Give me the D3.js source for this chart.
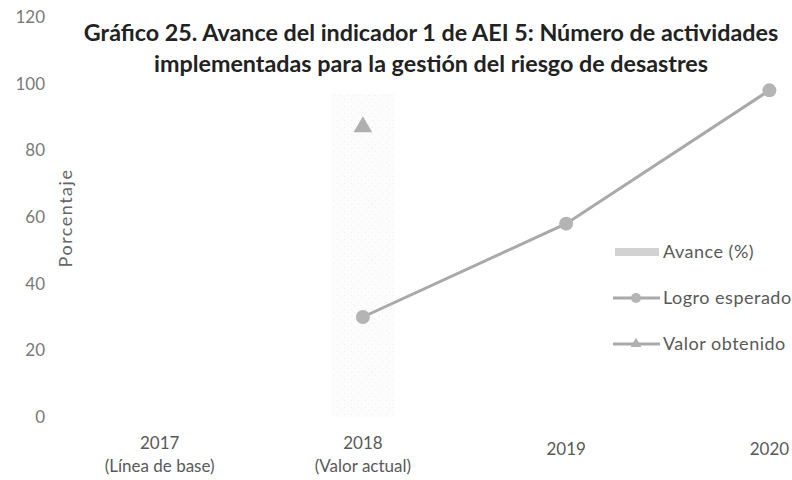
<!DOCTYPE html>
<html>
<head>
<meta charset="utf-8">
<script src="https://cdn.jsdelivr.net/npm/d3@7"></script>
<style>
  body { margin: 0; background: #fff; }
  text { font-family: Lato, "Open Sans", sans-serif; }
</style>
</head>
<body>
<svg id="chart" width="792" height="480"></svg>
<script>
// chart data
var categories = ["2017", "2018", "2019", "2020"];
var categorySub = ["(Línea de base)", "(Valor actual)", "", ""];
var avance = [null, 97, null, null];
var logroEsperado = [null, 30, 58, 98];
var valorObtenido = [null, 87, null, null];
var yTicks = [0, 20, 40, 60, 80, 100, 120];
var titleLines = [
    "Gráfico 25. Avance del indicador 1 de AEI 5: Número de actividades",
    "implementadas para la gestión del riesgo de desastres"
];
var legendItems = ["Avance (%)", "Logro esperado", "Valor obtenido"];

var svg = d3.select("#chart");

var x = d3.scaleBand()
    .domain(categories)
    .range([58, 871]);

var y = d3.scaleLinear()
    .domain([0, 120])
    .range([417, 17]);

function cx(c) { return x(c) + x.bandwidth() / 2; }

// very light speckled fill for the bar, like the scanned original
var defs = svg.append("defs");
var pat = defs.append("pattern")
    .attr("id", "speck")
    .attr("width", 7).attr("height", 7)
    .attr("patternUnits", "userSpaceOnUse");
pat.append("rect").attr("width", 7).attr("height", 7).attr("fill", "#fcfcfc");
pat.append("rect").attr("x", 1).attr("y", 1).attr("width", 1).attr("height", 1).attr("fill", "#ececec");
pat.append("rect").attr("x", 4).attr("y", 4).attr("width", 1).attr("height", 1).attr("fill", "#efefef");

// y axis labels
svg.append("g")
    .attr("class", "y-ticks")
    .selectAll("text")
    .data(yTicks)
    .enter().append("text")
    .attr("x", 45)
    .attr("y", function(d) { return y(d); })
    .attr("dy", "0.35em")
    .attr("text-anchor", "end")
    .attr("font-size", 17)
    .attr("fill", "#7a7a7a")
    .text(function(d) { return d; });

svg.append("text")
    .attr("transform", "translate(72,218) rotate(-90)")
    .attr("text-anchor", "middle")
    .attr("font-size", 18)
    .attr("letter-spacing", 1.5)
    .attr("fill", "#666")
    .text("Porcentaje");

// bars (Avance)
var barW = x.bandwidth() * 0.31;
svg.append("g")
    .selectAll("rect")
    .data(categories.filter(function(c, i) { return avance[i] !== null; }))
    .enter().append("rect")
    .attr("x", function(c) { return cx(c) - barW / 2; })
    .attr("y", function(c) { return y(avance[categories.indexOf(c)]); })
    .attr("width", barW)
    .attr("height", function(c) { return y(0) - y(avance[categories.indexOf(c)]); })
    .attr("fill", "url(#speck)");

// Logro esperado line
var logroPts = categories
    .map(function(c, i) { return { c: c, v: logroEsperado[i] }; })
    .filter(function(d) { return d.v !== null; });

var line = d3.line()
    .x(function(d) { return cx(d.c); })
    .y(function(d) { return y(d.v); });

svg.append("path")
    .datum(logroPts)
    .attr("d", line)
    .attr("fill", "none")
    .attr("stroke", "#a9a9a9")
    .attr("stroke-width", 3);

svg.append("g")
    .selectAll("circle")
    .data(logroPts)
    .enter().append("circle")
    .attr("cx", function(d) { return cx(d.c); })
    .attr("cy", function(d) { return y(d.v); })
    .attr("r", 7)
    .attr("fill", "#b4b4b4");

// Valor obtenido markers
var tri = d3.symbol().type(d3.symbolTriangle).size(150);
svg.append("g")
    .selectAll("path")
    .data(categories.filter(function(c, i) { return valorObtenido[i] !== null; }))
    .enter().append("path")
    .attr("d", tri)
    .attr("transform", function(c) {
        return "translate(" + cx(c) + "," + y(valorObtenido[categories.indexOf(c)]) + ")";
    })
    .attr("fill", "#b0b0b0");

// x axis labels
var xl = svg.append("g").selectAll("g")
    .data(categories)
    .enter().append("g")
    .attr("transform", function(c, i) {
        return "translate(" + cx(c) + "," + (categorySub[i] ? 449 : 455) + ")";
    });
xl.append("text")
    .attr("text-anchor", "middle")
    .attr("font-size", 17)
    .attr("fill", "#595959")
    .text(function(c) { return c; });
xl.append("text")
    .attr("y", 23)
    .attr("text-anchor", "middle")
    .attr("font-size", 17)
    .attr("fill", "#595959")
    .text(function(c, i) { return categorySub[i]; });

// title
svg.append("g")
    .selectAll("text")
    .data(titleLines)
    .enter().append("text")
    .attr("x", 431)
    .attr("y", function(d, i) { return 41 + i * 31; })
    .attr("text-anchor", "middle")
    .attr("font-size", 23.3)
    .attr("font-weight", "bold")
    .attr("fill", "#222")
    .text(function(d) { return d; });

// legend
var leg = svg.append("g")
    .selectAll("g")
    .data(legendItems)
    .enter().append("g")
    .attr("transform", function(d, i) { return "translate(613," + (252 + i * 46) + ")"; });

leg.filter(function(d, i) { return i === 0; })
    .append("rect")
    .attr("x", 2).attr("y", -4)
    .attr("width", 44).attr("height", 8)
    .attr("fill", "#d2d2d2");

leg.filter(function(d, i) { return i > 0; })
    .append("line")
    .attr("x1", 0).attr("x2", 47)
    .attr("stroke", "#a9a9a9")
    .attr("stroke-width", 3);

leg.filter(function(d, i) { return i === 1; })
    .append("circle")
    .attr("cx", 23).attr("r", 5)
    .attr("fill", "#b4b4b4");

leg.filter(function(d, i) { return i === 2; })
    .append("path")
    .attr("d", d3.symbol().type(d3.symbolTriangle).size(50))
    .attr("transform", "translate(23,0)")
    .attr("fill", "#b0b0b0");

leg.append("text")
    .attr("x", 50)
    .attr("dy", "0.35em")
    .attr("font-size", 18)
    .attr("letter-spacing", 0.5)
    .attr("fill", "#595959")
    .text(function(d) { return d; });
</script>
</body>
</html>
